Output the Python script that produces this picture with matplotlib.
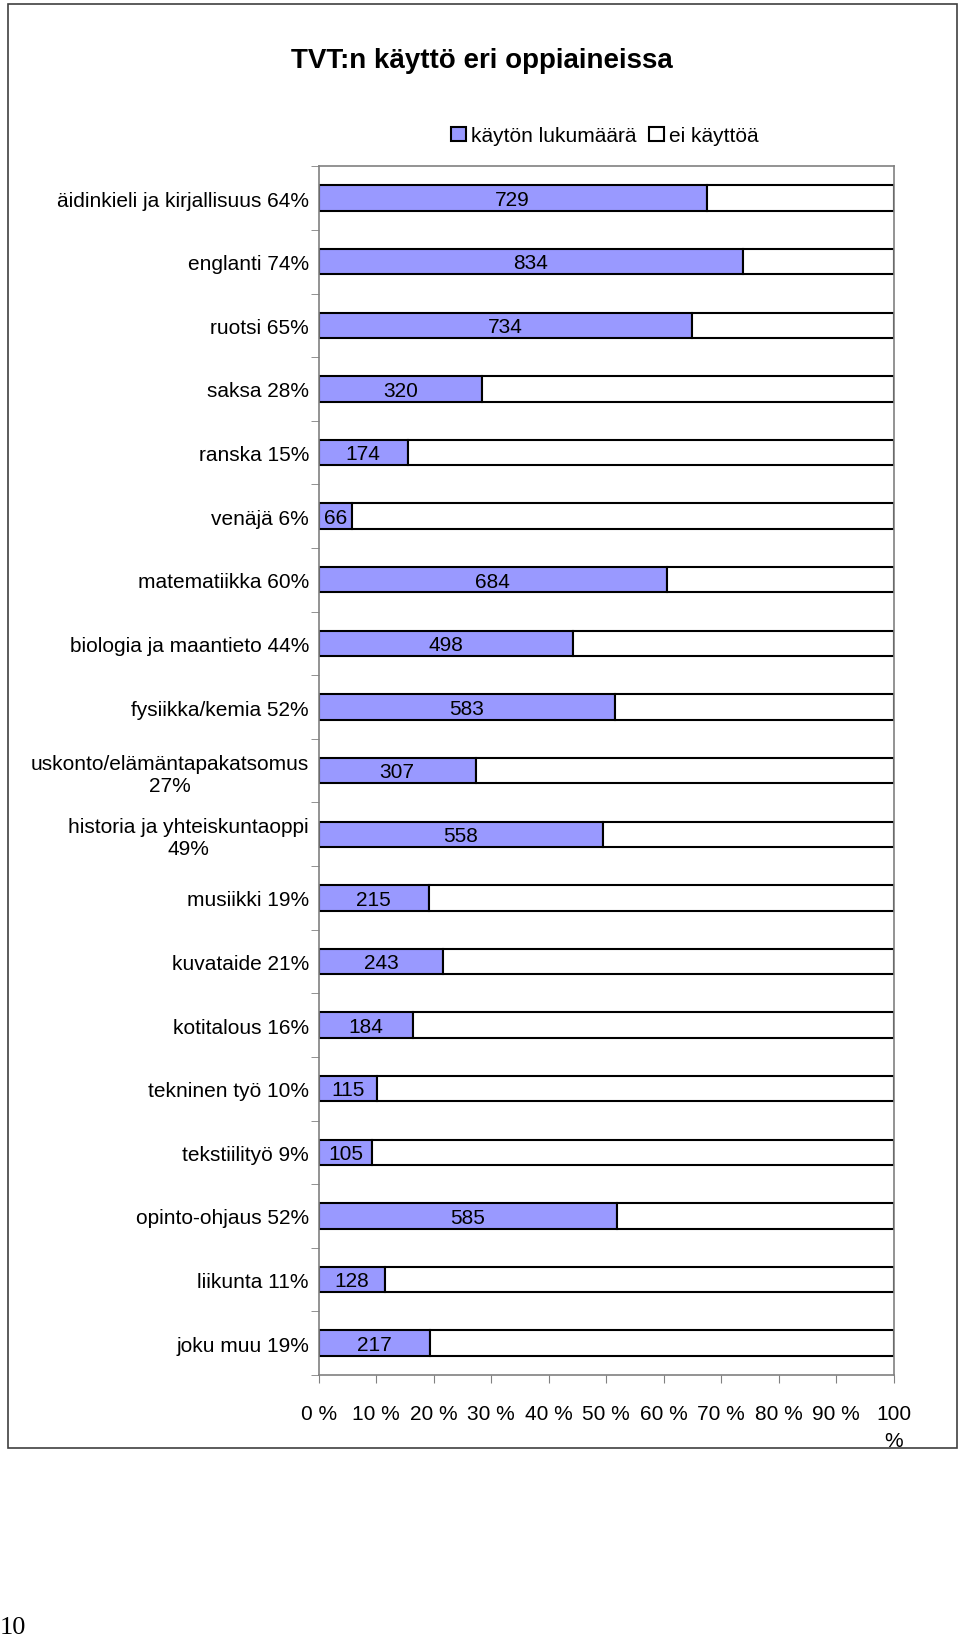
import matplotlib.pyplot as plt
import numpy as np
from matplotlib.patches import Patch, Rectangle

plt.rcParams['font.family'] = ['Liberation Sans', 'DejaVu Sans']

subjects = [
    "äidinkieli ja kirjallisuus 64%", "englanti 74%", "ruotsi 65%", "saksa 28%",
    "ranska 15%", "venäjä 6%", "matematiikka 60%", "biologia ja maantieto 44%",
    "fysiikka/kemia 52%", "uskonto/elämäntapakatsomus\n27%",
    "historia ja yhteiskuntaoppi\n49%", "musiikki 19%", "kuvataide 21%",
    "kotitalous 16%", "tekninen työ 10%", "tekstiilityö 9%", "opinto-ohjaus 52%",
    "liikunta 11%", "joku muu 19%",
]
used = [729, 834, 734, 320, 174, 66, 684, 498, 583, 307, 558, 215, 243, 184, 115, 105, 585, 128, 217]
not_used = [352, 296, 397, 808, 952, 1064, 446, 629, 547, 819, 570, 911, 880, 941, 1014, 1027, 544, 990, 909]
xticklabels = ["0 %", "10 %", "20 %", "30 %", "40 %", "50 %", "60 %", "70 %", "80 %", "90 %", "100\n%"]

used = np.array(used, dtype=float)
not_used = np.array(not_used, dtype=float)
total = used + not_used
p_used = used / total
p_not = not_used / total

fig = plt.figure(figsize=(9.6, 16.4), dpi=100)
ax = fig.add_axes([0.332, 0.161, 0.599, 0.737])

y = np.arange(len(subjects))
ax.barh(y, p_used, height=0.4, color='#9999FF', edgecolor='black', linewidth=1.5)
ax.barh(y, p_not, left=p_used, height=0.4, color='white', edgecolor='black', linewidth=1.5)

for yi, pu, n in zip(y, p_used, used):
    ax.text(pu / 2, yi + 0.02, f"{int(n)}", ha='center', va='center', fontsize=15)

ax.set_xlim(0, 1)
ax.set_ylim(len(subjects) - 0.5, -0.5)
ax.set_yticks(y)
ax.set_yticklabels(subjects, fontsize=15, multialignment='center')
ax.tick_params(axis='y', which='major', length=0, pad=7)
ax.set_yticks(np.arange(len(subjects) + 1) - 0.5, minor=True)
ax.tick_params(axis='y', which='minor', length=6, color='#808080', direction='out')
ax.set_xticks(np.linspace(0, 1, 11))
ax.set_xticklabels(xticklabels, fontsize=15, linespacing=1.5)
ax.tick_params(axis='x', length=6, color='#808080', pad=15)
for s in ax.spines.values():
    s.set_color('#808080')
    s.set_linewidth(1.2)

fig.text(0.502, 0.963, "TVT:n käyttö eri oppiaineissa", ha='center', va='center',
         fontsize=20, fontweight='bold')

handles = [Patch(facecolor='#9999FF', edgecolor='black', linewidth=1.5),
           Patch(facecolor='white', edgecolor='black', linewidth=1.5)]
fig.legend(handles, ["käytön lukumäärä", "ei käyttöä"], loc='center',
           bbox_to_anchor=(0.630, 0.9165), ncol=2, frameon=False, fontsize=15,
           handlelength=0.7, handleheight=0.7, handletextpad=0.25, columnspacing=0.6)

# outer chart frame
fig.patches.append(Rectangle((0.008, 1 - 1449 / 1640), 0.989, (1449 - 5) / 1640,
                             transform=fig.transFigure, fill=False,
                             edgecolor='#404040', linewidth=1.2))

fig.text(0.0, 1 - 1628 / 1640, "10", ha='left', va='center', fontsize=19,
         family=['Liberation Serif', 'DejaVu Serif'])

fig.savefig("out.png", dpi=100, facecolor='white')
